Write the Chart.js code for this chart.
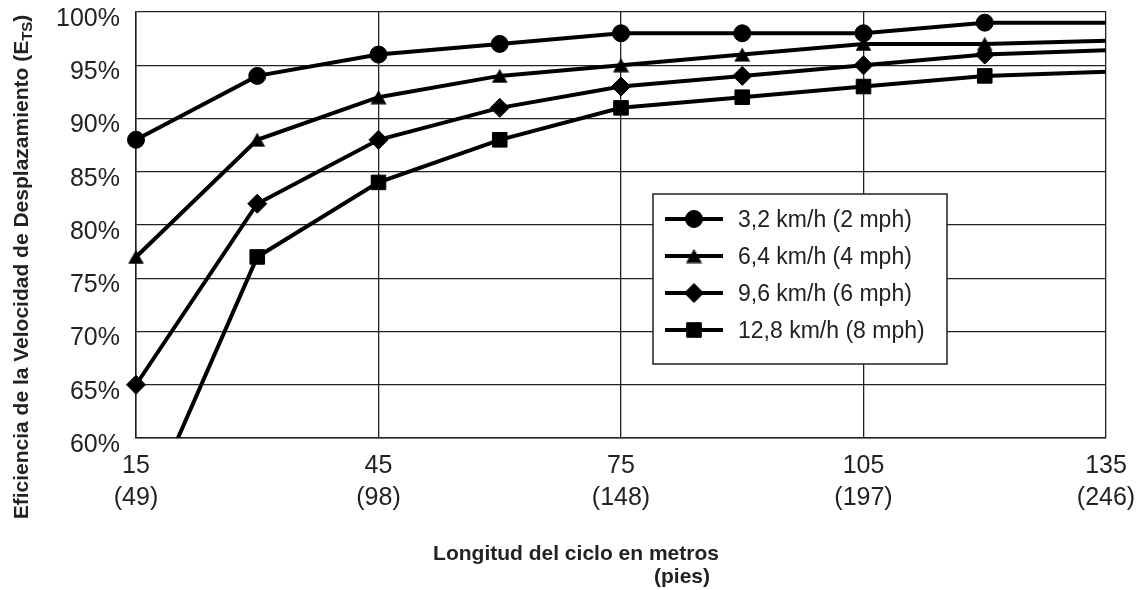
<!DOCTYPE html>
<html>
<head>
<meta charset="utf-8">
<script src="https://cdn.jsdelivr.net/npm/chart.js@4/dist/chart.umd.min.js"></script>
<style>
  html, body { margin: 0; padding: 0; background: #fff; }
  #wrap { width: 1148px; height: 590px; position: relative; }
</style>
</head>
<body>
<div id="wrap"><canvas id="grafico"></canvas></div>
<script>
// datos
const longitudMetros = [15, 30, 45, 60, 75, 90, 105, 120, 135];
const etiquetasMetros = [15, 45, 75, 105, 135];
const etiquetasPies = ['(49)', '(98)', '(148)', '(197)', '(246)'];

const serie2mph = [88, 94, 96, 97, 98, 98, 98, 99, 99];
const serie4mph = [77, 88, 92, 94, 95, 96, 97, 97, 97.3];
const serie6mph = [65, 82, 88, 91, 93, 94, 95, 96, 96.4];
const serie8mph = [51, 77, 84, 88, 91, 92, 93, 94, 94.4];

const nombresSeries = ['3,2 km/h (2 mph)', '6,4 km/h (4 mph)', '9,6 km/h (6 mph)', '12,8 km/h (8 mph)'];

const tituloX = 'Longitud del ciclo en metros';
const tituloXPies = '(pies)';
const tituloY = 'Eficiencia de la Velocidad de Desplazamiento (E';
const tituloYSub = 'TS';

const FUENTE = '"Liberation Sans", Arial, Helvetica, sans-serif';
const GRIS_TEXTO = '#222';

// triángulo centrado en su caja (como en el original)
function crearTriangulo() {
    const c = document.createElement('canvas');
    c.width = 17;
    c.height = 15;
    const g = c.getContext('2d');
    g.fillStyle = '#000';
    g.beginPath();
    g.moveTo(8.5, 0.5);
    g.lineTo(16.5, 14.5);
    g.lineTo(0.5, 14.5);
    g.closePath();
    g.fill();
    return c;
}
const triangulo = crearTriangulo();

// el último punto (135 m) no lleva marcador
function radios(r) {
    return longitudMetros.map((x, i) => i === longitudMetros.length - 1 ? 0 : r);
}

function serie(nombre, valores, estilo, r, clip) {
    return {
        label: nombre,
        data: longitudMetros.map((x, i) => ({ x, y: valores[i] })),
        borderColor: '#000',
        backgroundColor: '#000',
        borderWidth: 4,
        pointStyle: estilo,
        pointRadius: radios(r),
        pointHoverRadius: radios(r),
        pointBorderWidth: 1,
        pointBackgroundColor: '#000',
        pointBorderColor: '#000',
        tension: 0,
        clip: clip
    };
}

const clipLibre = false;
const clipAbajo = { left: false, top: false, right: false, bottom: 0 };

// marcador para la leyenda
function dibujarMarcador(ctx, estilo, x, y, r) {
    if (estilo instanceof HTMLCanvasElement) {
        ctx.drawImage(estilo, x - estilo.width / 2, y - estilo.height / 2);
        return;
    }
    ctx.beginPath();
    if (estilo === 'circle') {
        ctx.arc(x, y, r, 0, Math.PI * 2);
    } else if (estilo === 'rectRot') {
        ctx.moveTo(x - r, y); ctx.lineTo(x, y - r); ctx.lineTo(x + r, y); ctx.lineTo(x, y + r);
    } else {
        const s = r * Math.SQRT1_2;
        ctx.rect(x - s, y - s, 2 * s, 2 * s);
    }
    ctx.closePath();
    ctx.fill();
    ctx.stroke();
}

// títulos y leyenda dibujados a mano
const extras = {
    id: 'extras',
    afterDraw(chart) {
        const ctx = chart.ctx;
        const area = chart.chartArea;
        ctx.save();
        ctx.fillStyle = GRIS_TEXTO;

        // título eje X
        ctx.font = 'bold 21px ' + FUENTE;
        ctx.textAlign = 'center';
        ctx.textBaseline = 'alphabetic';
        ctx.fillText(tituloX, chart.width / 2 + 2, 560);
        ctx.fillText(tituloXPies, chart.width / 2 + 108, 583);

        // título eje Y con subíndice
        ctx.translate(28, 267);
        ctx.rotate(-Math.PI / 2);
        ctx.textAlign = 'left';
        ctx.font = 'bold 21px ' + FUENTE;
        const w1 = ctx.measureText(tituloY).width;
        const w3 = ctx.measureText(')').width;
        ctx.font = 'bold 15px ' + FUENTE;
        const w2 = ctx.measureText(tituloYSub).width;
        let x0 = -(w1 + w2 + w3) / 2;
        ctx.font = 'bold 21px ' + FUENTE;
        ctx.fillText(tituloY, x0, 0);
        ctx.font = 'bold 15px ' + FUENTE;
        ctx.fillText(tituloYSub, x0 + w1, 4);
        ctx.font = 'bold 21px ' + FUENTE;
        ctx.fillText(')', x0 + w1 + w2, 0);
        ctx.restore();

        // leyenda
        ctx.save();
        const bx = area.left + 517, by = area.top + 182, bw = 294, bh = 170;
        ctx.fillStyle = '#fff';
        ctx.fillRect(bx, by, bw, bh);
        ctx.strokeStyle = '#222';
        ctx.lineWidth = 1.5;
        ctx.strokeRect(bx, by, bw, bh);
        chart.data.datasets.forEach((ds, i) => {
            const y = by + 25 + i * 37;
            ctx.strokeStyle = '#000';
            ctx.lineWidth = 4;
            ctx.beginPath();
            ctx.moveTo(bx + 12, y);
            ctx.lineTo(bx + 70, y);
            ctx.stroke();
            ctx.fillStyle = '#000';
            ctx.lineWidth = 1;
            dibujarMarcador(ctx, ds.pointStyle, bx + 41, y, ds.pointRadius[0]);
            ctx.fillStyle = GRIS_TEXTO;
            ctx.font = '23px ' + FUENTE;
            ctx.textAlign = 'left';
            ctx.textBaseline = 'middle';
            ctx.fillText(ds.label, bx + 85, y + 2);
        });
        ctx.restore();
    }
};

const ctx = document.getElementById('grafico').getContext('2d');
new Chart(ctx, {
    type: 'line',
    data: {
        datasets: [
            serie(nombresSeries[0], serie2mph, 'circle', 8.5, clipLibre),
            serie(nombresSeries[1], serie4mph, triangulo, 8.5, clipLibre),
            serie(nombresSeries[2], serie6mph, 'rectRot', 9.5, clipLibre),
            serie(nombresSeries[3], serie8mph, 'rect', 10.3, clipAbajo)
        ]
    },
    options: {
        responsive: true,
        maintainAspectRatio: false,
        animation: false,
        layout: { padding: { top: 12, right: 42, left: 0, bottom: 0 } },
        plugins: {
            legend: { display: false },
            tooltip: { enabled: false }
        },
        scales: {
            x: {
                type: 'linear',
                min: 15,
                max: 135,
                afterBuildTicks: scale => {
                    scale.ticks = etiquetasMetros.map(v => ({ value: v }));
                },
                afterFit: scale => {
                    scale.height = 152;
                    scale.paddingLeft = 0;
                    scale.paddingRight = 0;
                },
                grid: { color: '#222', lineWidth: 1.3, drawTicks: false },
                border: { color: '#222', width: 1.5 },
                ticks: {
                    color: GRIS_TEXTO,
                    padding: 12,
                    maxRotation: 0,
                    autoSkip: false,
                    font: { family: FUENTE, size: 25, lineHeight: 1.28 },
                    callback: v => {
                        const i = etiquetasMetros.indexOf(v);
                        return [String(v), etiquetasPies[i]];
                    }
                }
            },
            y: {
                min: 60,
                max: 100,
                afterFit: scale => {
                    scale.width = 136;
                    scale.paddingTop = 0;
                    scale.paddingBottom = 0;
                },
                grid: { color: '#222', lineWidth: 1.3, drawTicks: false },
                border: { color: '#222', width: 1.5 },
                ticks: {
                    stepSize: 5,
                    color: GRIS_TEXTO,
                    padding: 16,
                    labelOffset: 7,
                    font: { family: FUENTE, size: 25 },
                    callback: v => v + '%'
                }
            }
        }
    },
    plugins: [extras]
});
</script>
</body>
</html>
